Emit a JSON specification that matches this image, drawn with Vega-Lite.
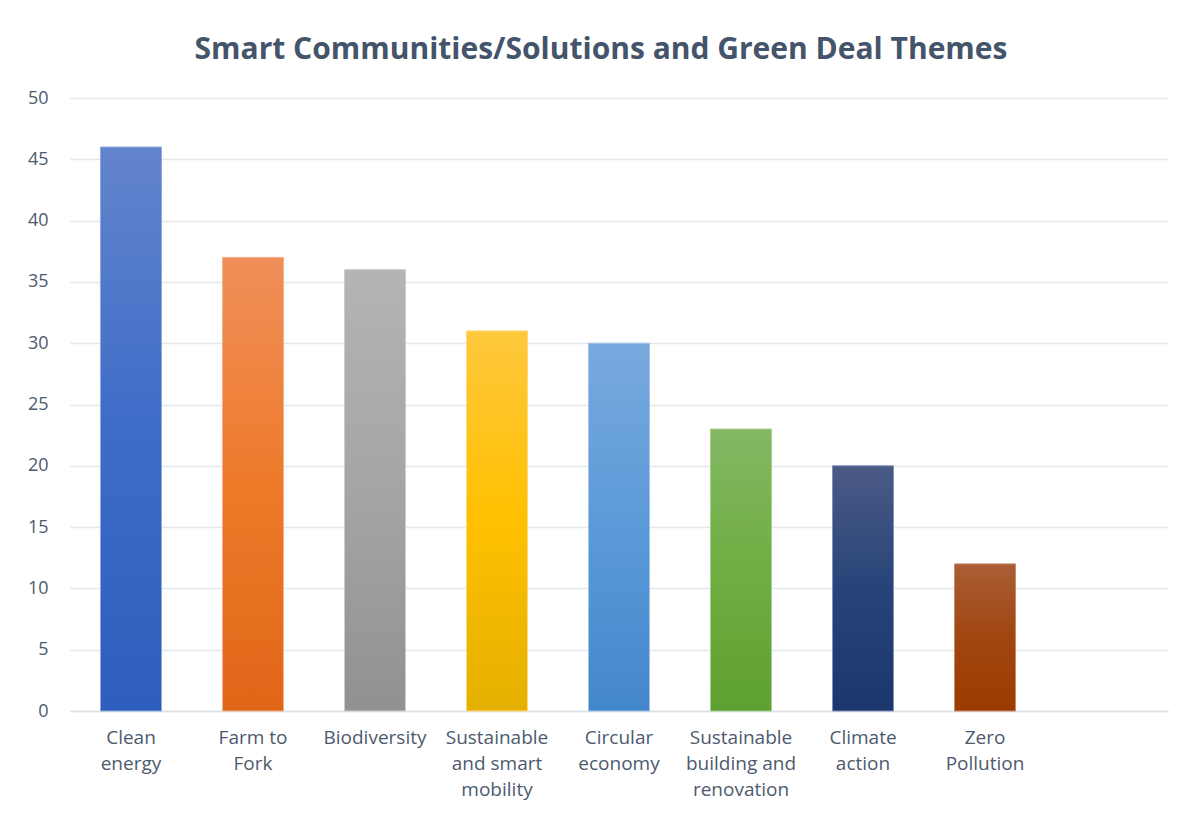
{
  "$schema": "https://vega.github.io/schema/vega-lite/v6.json",
  "width": 1098,
  "height": 613,
  "autosize": {"type": "none"},
  "padding": {"left": 70, "top": 98, "right": 18, "bottom": 103},
  "background": "white",
  "title": {
    "text": "Smart Communities/Solutions and Green Deal Themes",
    "font": "Open Sans",
    "fontSize": 30,
    "fontWeight": "bold",
    "color": "#44546A",
    "anchor": "middle",
    "dx": -18,
    "offset": 24
  },
  "data": {
    "values": [
      {"theme": "Clean energy", "count": 46},
      {"theme": "Farm to Fork", "count": 37},
      {"theme": "Biodiversity", "count": 36},
      {"theme": "Sustainable and smart mobility", "count": 31},
      {"theme": "Circular economy", "count": 30},
      {"theme": "Sustainable building and renovation", "count": 23},
      {"theme": "Climate action", "count": 20},
      {"theme": "Zero Pollution", "count": 12}
    ]
  },
  "config": {
    "view": {"stroke": null},
    "axis": {
      "labelFont": "Open Sans",
      "labelColor": "#4d5a6e",
      "ticks": false,
      "title": null
    }
  },
  "encoding": {
    "x": {
      "field": "theme",
      "type": "nominal",
      "sort": null,
      "scale": {
        "domain": ["Clean energy", "Farm to Fork", "Biodiversity", "Sustainable and smart mobility", "Circular economy", "Sustainable building and renovation", "Climate action", "Zero Pollution", "blank"],
        "paddingInner": 0.5,
        "paddingOuter": 0.25
      },
      "axis": {
        "labelAngle": 0,
        "labelFontSize": 19,
        "labelPadding": 17,
        "labelLineHeight": 26,
        "labelBaseline": "top",
        "domainColor": "#dde1e7",
        "domainWidth": 1.5,
        "labelExpr": "datum.value == 'Clean energy' ? ['Clean','energy'] : datum.value == 'Farm to Fork' ? ['Farm to','Fork'] : datum.value == 'Sustainable and smart mobility' ? ['Sustainable','and smart','mobility'] : datum.value == 'Circular economy' ? ['Circular','economy'] : datum.value == 'Sustainable building and renovation' ? ['Sustainable','building and','renovation'] : datum.value == 'Climate action' ? ['Climate','action'] : datum.value == 'Zero Pollution' ? ['Zero','Pollution'] : datum.value == 'blank' ? '' : datum.value"
      }
    },
    "y": {
      "field": "count",
      "type": "quantitative",
      "scale": {"domain": [0, 50], "nice": false},
      "axis": {
        "values": [0, 5, 10, 15, 20, 25, 30, 35, 40, 45, 50],
        "labelFontSize": 18,
        "domain": false,
        "gridColor": "#e3e6eb",
        "gridWidth": 1.5,
        "labelPadding": 22
      }
    }
  },
  "layer": [
    {
      "transform": [{"filter": "datum.theme == 'Clean energy'"}],
      "mark": {"type": "bar", "stroke": "#8fa9dd", "strokeWidth": 1, "color": {"gradient": "linear", "x1": 0, "y1": 0, "x2": 0, "y2": 1, "stops": [{"offset": 0, "color": "#6384cc"}, {"offset": 0.5, "color": "#3d6cc8"}, {"offset": 1, "color": "#2e5ebd"}]}}
    },
    {
      "transform": [{"filter": "datum.theme == 'Farm to Fork'"}],
      "mark": {"type": "bar", "stroke": "#f4b08a", "strokeWidth": 1, "color": {"gradient": "linear", "x1": 0, "y1": 0, "x2": 0, "y2": 1, "stops": [{"offset": 0, "color": "#f08f5a"}, {"offset": 0.5, "color": "#ee7a2a"}, {"offset": 1, "color": "#e06618"}]}}
    },
    {
      "transform": [{"filter": "datum.theme == 'Biodiversity'"}],
      "mark": {"type": "bar", "stroke": "#cccccc", "strokeWidth": 1, "color": {"gradient": "linear", "x1": 0, "y1": 0, "x2": 0, "y2": 1, "stops": [{"offset": 0, "color": "#b4b4b4"}, {"offset": 0.5, "color": "#a5a5a5"}, {"offset": 1, "color": "#919191"}]}}
    },
    {
      "transform": [{"filter": "datum.theme == 'Sustainable and smart mobility'"}],
      "mark": {"type": "bar", "stroke": "#ffd878", "strokeWidth": 1, "color": {"gradient": "linear", "x1": 0, "y1": 0, "x2": 0, "y2": 1, "stops": [{"offset": 0, "color": "#ffc83d"}, {"offset": 0.5, "color": "#ffc000"}, {"offset": 1, "color": "#e4b000"}]}}
    },
    {
      "transform": [{"filter": "datum.theme == 'Circular economy'"}],
      "mark": {"type": "bar", "stroke": "#a3c4ea", "strokeWidth": 1, "color": {"gradient": "linear", "x1": 0, "y1": 0, "x2": 0, "y2": 1, "stops": [{"offset": 0, "color": "#78a9de"}, {"offset": 0.5, "color": "#5b9ad8"}, {"offset": 1, "color": "#4387cb"}]}}
    },
    {
      "transform": [{"filter": "datum.theme == 'Sustainable building and renovation'"}],
      "mark": {"type": "bar", "stroke": "#a7cf8e", "strokeWidth": 1, "color": {"gradient": "linear", "x1": 0, "y1": 0, "x2": 0, "y2": 1, "stops": [{"offset": 0, "color": "#83b764"}, {"offset": 0.5, "color": "#6fae42"}, {"offset": 1, "color": "#5fa032"}]}}
    },
    {
      "transform": [{"filter": "datum.theme == 'Climate action'"}],
      "mark": {"type": "bar", "stroke": "#8090b8", "strokeWidth": 1, "color": {"gradient": "linear", "x1": 0, "y1": 0, "x2": 0, "y2": 1, "stops": [{"offset": 0, "color": "#4b5a86"}, {"offset": 0.5, "color": "#274479"}, {"offset": 1, "color": "#1b366d"}]}}
    },
    {
      "transform": [{"filter": "datum.theme == 'Zero Pollution'"}],
      "mark": {"type": "bar", "stroke": "#c98a66", "strokeWidth": 1, "color": {"gradient": "linear", "x1": 0, "y1": 0, "x2": 0, "y2": 1, "stops": [{"offset": 0, "color": "#ab5e36"}, {"offset": 0.5, "color": "#a04610"}, {"offset": 1, "color": "#9a3c00"}]}}
    }
  ]
}
